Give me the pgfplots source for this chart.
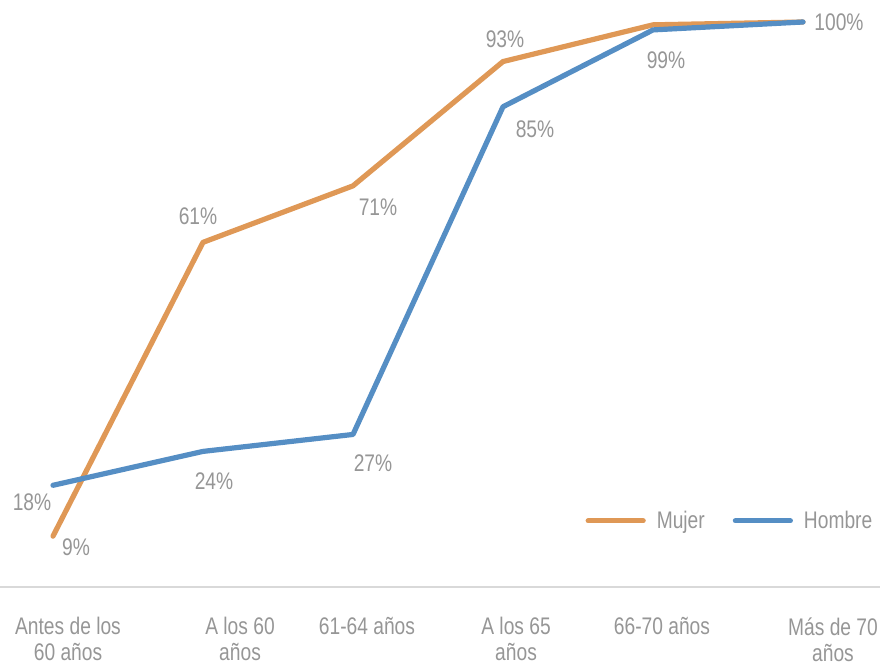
\documentclass[border=0pt]{standalone}
\usepackage{fontspec}
\setmainfont{Liberation Sans}[FakeStretch=0.8]
\usepackage{pgfplots}
\usepackage{pgfplotstable}
\pgfplotsset{compat=1.18}
\definecolor{mujer}{RGB}{223,152,86}
\definecolor{hombre}{RGB}{85,142,196}
\definecolor{txt}{RGB}{150,150,150}
\definecolor{axl}{RGB}{217,217,217}

\pgfplotstableread{
x y
0 9
1 61
2 71
3 93
4 99.5
5 100
}\mujer
\pgfplotstableread{
x y
0 18
1 24
2 27
3 85
4 98.6
5 100
}\hombre
\pgfplotstableread{
x y lab dx dy
0 9 9 11.5 -5.5
1 61 61 -2.5 13
2 71 71 12.5 -10.5
3 93 93 1 11
}\mujerlab
\pgfplotstableread{
x y lab dx dy
0 18 18 -10.5 -8.5
1 24 24 5.5 -15
2 27 27 10 -14.5
3 85 85 16 -11
4 98.6 99 6.5 -15
5 100 100 18 0
}\hombrelab

\begin{document}
\begin{tikzpicture}
\path[use as bounding box] (0,-39pt) rectangle (442pt,293.5pt);
\begin{axis}[
  at={(0,0)}, anchor=south west,
  scale only axis, width=440pt, height=282.5pt,
  xmin=-0.3533, xmax=5.5133, ymin=0, ymax=100,
  axis y line=none,
  axis x line*=bottom,
  x axis line style={draw=axl, line width=0.8pt, -},
  xtick={0.1,1.247,2.093,3.087,4.06,5.2},
  xticklabels={Antes de los\\60 años, A los 60\\años, 61-64 años, A los 65\\años, 66-70 años, Más de 70\\años},
  major tick length=0pt,
  xticklabel style={align=center, anchor=north, inner sep=0pt, yshift=-15pt, text=txt, font=\fontsize{12}{13}\selectfont},
  clip=false,
  legend style={at={(rel axis cs:1.003,0.117)}, anchor=east, draw=none, fill=none,
    legend columns=2, font=\fontsize{12}{13}\selectfont, text=txt,
    /tikz/every even column/.append style={column sep=12pt}},
  legend image code/.code={\draw[#1, line cap=round] (0pt,0pt) -- (27.5pt,0pt);},
  lbl/.style={draw=none, mark=none, forget plot, point meta=explicit,
    nodes near coords={\pgfmathprintnumber[assume math mode=true]{\pgfplotspointmeta}\%},
    visualization depends on={\thisrow{dx}\as\dx},
    visualization depends on={\thisrow{dy}\as\dy},
    every node near coord/.append style={anchor=center, inner sep=0pt, xshift=\dx pt, yshift=\dy pt, text=txt, font=\fontsize{12}{13}\selectfont}},
]
\addplot[mujer, line width=2.6pt, line cap=round, line join=round, mark=none] table[x=x,y=y] {\mujer};
\addlegendentry{\hspace{3.5pt}Mujer}
\addplot[hombre, line width=2.6pt, line cap=round, line join=round, mark=none] table[x=x,y=y] {\hombre};
\addlegendentry{\hspace{3.5pt}Hombre}
\addplot[lbl] table[x=x,y=y,meta=lab] {\mujerlab};
\addplot[lbl] table[x=x,y=y,meta=lab] {\hombrelab};
\end{axis}
\end{tikzpicture}
\end{document}
